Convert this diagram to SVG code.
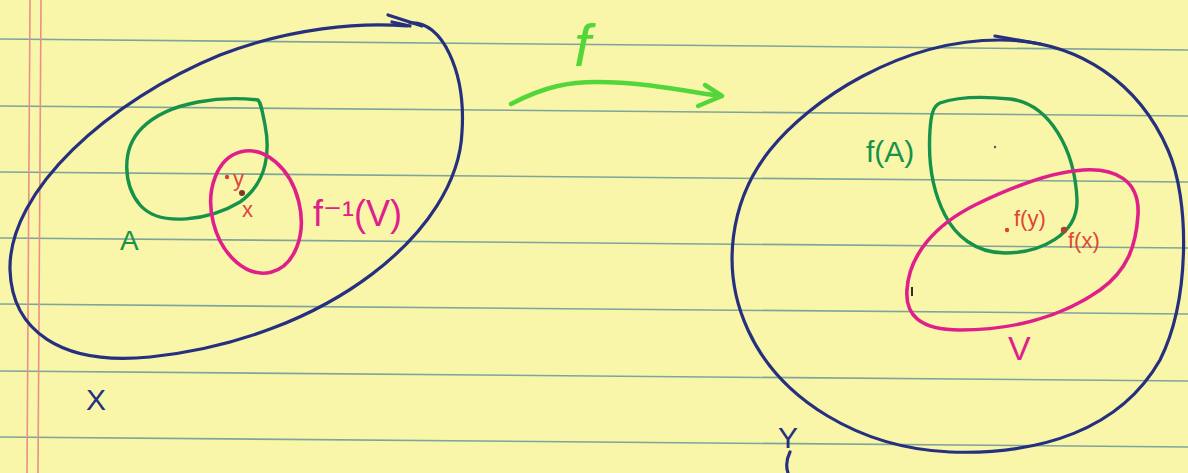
<svg xmlns="http://www.w3.org/2000/svg" width="1188" height="473" viewBox="0 0 1188 473">
<style>
.rule{stroke:#7fa59a;stroke-width:1.6;fill:none}
.margin{stroke:#e8908a;stroke-width:1.6;fill:none}
.blue{stroke:#26307e;stroke-width:3.2;fill:none;stroke-linecap:round;stroke-linejoin:round}
.green{stroke:#17924a;stroke-width:3.4;fill:none;stroke-linecap:round;stroke-linejoin:round}
.lime{stroke:#52d63a;stroke-width:4.5;fill:none;stroke-linecap:round;stroke-linejoin:round}
.pink{stroke:#e0208a;stroke-width:3.6;fill:none;stroke-linecap:round;stroke-linejoin:round}
text{font-family:"Liberation Sans","DejaVu Sans",sans-serif}
.tg{fill:#17924a}
.tb{fill:#26307e}
.tp{fill:#e0208a}
.tr{fill:#e0453a}
</style>
<rect id="paper" x="0" y="0" width="1188" height="473" fill="#f9f6aa"/>
<g id="rules">
<line class="rule" x1="0" y1="39" x2="1188" y2="50"/>
<line class="rule" x1="0" y1="106" x2="1188" y2="116"/>
<line class="rule" x1="0" y1="172" x2="1188" y2="182"/>
<line class="rule" x1="0" y1="238" x2="1188" y2="248"/>
<line class="rule" x1="0" y1="304" x2="1188" y2="314"/>
<line class="rule" x1="0" y1="371" x2="1188" y2="381"/>
<line class="rule" x1="0" y1="437" x2="1188" y2="447"/>
<line class="margin" x1="30" y1="0" x2="27" y2="473"/>
<line class="margin" x1="41" y1="0" x2="38" y2="473"/>
</g>
<g id="set-X">
<path class="blue" d="M410,23 C442,20 466,72 462,132 C458,230 330,338 150,357 C60,366 12,330 10,270 C8,190 110,100 220,55 C290,28 360,22 407,26"/>
<path class="blue" d="M388,15 L422,26 M392,22 L410,26" stroke-width="2.6"/>
<text class="tb" x="86" y="410" font-size="30">X</text>
</g>
<g id="set-A">
<path class="green" d="M258,100 C225,96 170,100 142,128 C120,150 124,186 140,205 C160,228 210,220 240,202 C268,182 270,150 265,125 C262,110 261,103 258,100"/>
<text class="tg" x="120" y="250" font-size="28">A</text>
</g>
<g id="set-preimage-V">
<ellipse class="pink" cx="256" cy="212" rx="44" ry="62" transform="rotate(-14 256 212)"/>
<text class="tp" x="313" y="226" font-size="36">f⁻¹(V)</text>
</g>
<g id="points-left">
<circle cx="227" cy="177" r="2.2" fill="#d5453a"/>
<text class="tr" x="233" y="186" font-size="22">y</text>
<circle cx="242" cy="193" r="3" fill="#7a3a2a"/>
<text class="tr" x="242" y="217" font-size="22">x</text>
</g>
<g id="connectors">
<path class="lime" d="M511,104 C545,86 570,82 597,82 C640,82 680,90 720,96"/>
<path class="lime" d="M705,85 L722,96 L698,106" stroke-width="3.6"/>
<text x="574" y="66" font-size="60" fill="#52d63a" font-style="italic">f</text>
</g>
<g id="set-Y">
<path class="blue" d="M1000,40 C1080,40 1140,85 1168,150 C1190,200 1190,300 1160,360 C1120,430 1040,455 950,452 C860,448 780,400 748,330 C720,270 730,200 770,150 C810,100 900,40 1000,40 Z"/>
<path class="blue" d="M995,36 L1040,44" stroke-width="2.4"/>
<text class="tb" x="778" y="448" font-size="30">Y</text>
<path class="blue" d="M790,452 C786,460 786,467 788,473" stroke-width="2.6"/>
</g>
<g id="set-fA">
<path class="green" d="M940,103 C960,96 990,97 1010,99 C1050,104 1075,150 1077,200 C1078,235 1040,253 1005,253 C975,253 955,235 945,215 C932,190 928,160 930,130 C931,115 933,106 940,103"/>
<circle cx="995" cy="147" r="1.2" fill="#555"/>
<text class="tg" x="866" y="162" font-size="30">f(A)</text>
</g>
<g id="set-V">
<path class="pink" d="M1083,170 C1115,168 1140,180 1138,215 C1136,245 1128,270 1100,290 C1060,318 1010,330 960,330 C920,330 905,315 907,290 C909,255 935,225 975,205 C1010,188 1050,172 1083,170 Z"/>
<path d="M912,287 L912,296" stroke="#3a2a2a" stroke-width="2"/>
<text class="tp" x="1008" y="360" font-size="34">V</text>
</g>
<g id="points-right">
<circle cx="1007" cy="230" r="2.2" fill="#d5453a"/>
<text class="tr" x="1014" y="226" font-size="22">f(y)</text>
<circle cx="1064" cy="230" r="3.2" fill="#b04030"/>
<text class="tr" x="1068" y="248" font-size="22">f(x)</text>
</g>
</svg>
